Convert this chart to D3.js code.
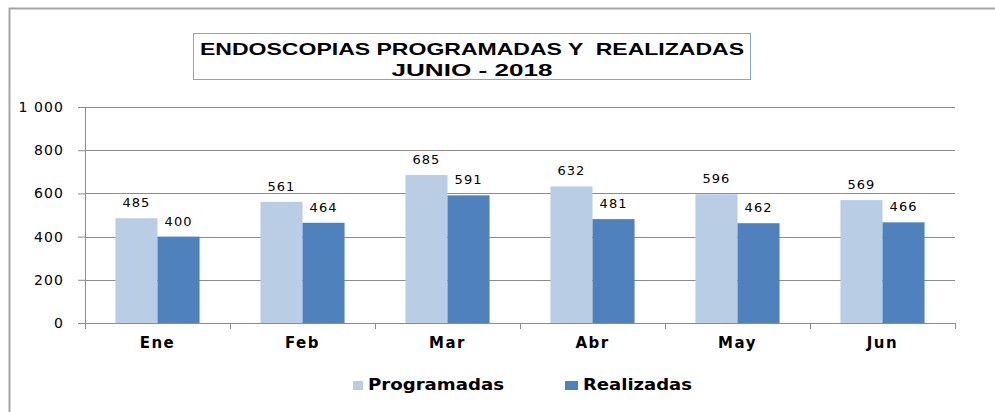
<!DOCTYPE html>
<html>
<head>
<meta charset="utf-8">
<script src="https://cdn.jsdelivr.net/npm/d3@7"></script>
<style>
  body { margin: 0; background: #fff; }
  svg { display: block; }
</style>
</head>
<body>
<div id="wrapper"></div>
<script>
// data
const months = ["Ene", "Feb", "Mar", "Abr", "May", "Jun"]
const seriesNames = ["Programadas", "Realizadas"]
const programadas = [485, 561, 685, 632, 596, 569]
const realizadas = [400, 464, 591, 481, 462, 466]
const yTicks = [0, 200, 400, 600, 800, 1000]
const titleLines = ["ENDOSCOPIAS PROGRAMADAS Y  REALIZADAS", "JUNIO - 2018"]

const colors = {Programadas: "#b9cde5", Realizadas: "#4f81bd"}

const width = 995
const height = 412
const margin = {top: 107, right: 40, bottom: 89, left: 85}
const boundedWidth = width - margin.left - margin.right
const boundedHeight = height - margin.top - margin.bottom

const svg = d3.select("#wrapper").append("svg")
    .attr("width", width)
    .attr("height", height)

// outer frame (only top + left visible)
svg.append("path")
    .attr("d", `M9.5,${height} V8.5 H${width}`)
    .attr("fill", "none")
    .attr("stroke", "#a6a6a6")
    .attr("stroke-width", 2)

// title box
const titleBox = svg.append("g")
titleBox.append("rect")
    .attr("x", 193.5).attr("y", 33.5)
    .attr("width", 557).attr("height", 46)
    .attr("fill", "#fff")
    .attr("stroke", "#7ea6d8")
    .attr("stroke-width", 1)
const titleWidths = [544, 161]
titleBox.selectAll("text")
    .data(titleLines)
    .join("text")
    .attr("x", 472)
    .attr("y", (d, i) => 55 + i * 21)
    .attr("text-anchor", "middle")
    .attr("textLength", (d, i) => titleWidths[i])
    .attr("lengthAdjust", "spacingAndGlyphs")
    .style("white-space", "pre")
    .style("font-family", "'Liberation Sans Narrow', 'Liberation Sans', Arial, sans-serif")
    .style("font-weight", "bold")
    .style("font-size", "17px")
    .attr("fill", "#000")
    .text(d => d)

const bounds = svg.append("g")
    .attr("transform", `translate(${margin.left},${margin.top})`)

// scales
const x0 = d3.scaleBand()
    .domain(months)
    .range([0, boundedWidth])
    .paddingInner(0.42)
    .paddingOuter(0.21)
const x1 = d3.scaleBand()
    .domain(seriesNames)
    .range([0, x0.bandwidth()])
const y = d3.scaleLinear()
    .domain([0, 1000])
    .range([boundedHeight, 0])

// gridlines
bounds.append("g")
    .selectAll("line")
    .data(yTicks.filter(d => d > 0))
    .join("line")
    .attr("x1", 0).attr("x2", boundedWidth)
    .attr("y1", d => Math.round(y(d)) + 0.5)
    .attr("y2", d => Math.round(y(d)) + 0.5)
    .attr("stroke", "#8c8c8c")
    .attr("stroke-width", 1)

// y axis
const yAxis = d3.axisLeft(y)
    .tickValues(yTicks)
    .tickSize(7)
    .tickPadding(14)
    .tickFormat(d => d3.format(",")(d).replace(",", " "))
const yAxisG = bounds.append("g").call(yAxis)
yAxisG.select(".domain").attr("stroke", "#8c8c8c")
yAxisG.selectAll(".tick line").attr("stroke", "#8c8c8c")
yAxisG.selectAll(".tick text")
    .attr("fill", "#000")
    .style("font-family", "'DejaVu Sans', Verdana, sans-serif")
    .style("font-size", "14px")
    .style("letter-spacing", "1.1px")

// bars
const rows = months.map((m, i) => ({
  month: m,
  values: [
    {key: "Programadas", value: programadas[i]},
    {key: "Realizadas", value: realizadas[i]},
  ]
}))

const groups = bounds.append("g")
    .selectAll("g")
    .data(rows)
    .join("g")
    .attr("transform", d => `translate(${x0(d.month)},0)`)

groups.selectAll("rect")
    .data(d => d.values)
    .join("rect")
    .attr("x", d => x1(d.key))
    .attr("y", d => y(d.value))
    .attr("width", x1.bandwidth())
    .attr("height", d => boundedHeight - y(d.value))
    .attr("fill", d => colors[d.key])

groups.selectAll("text")
    .data(d => d.values)
    .join("text")
    .attr("x", d => x1(d.key) + x1.bandwidth() / 2)
    .attr("y", d => y(d.value) - 11)
    .attr("text-anchor", "middle")
    .attr("fill", "#000")
    .style("font-family", "'DejaVu Sans', Verdana, sans-serif")
    .style("font-size", "13px")
    .style("letter-spacing", "1px")
    .text(d => d.value)

// x axis
const xAxisG = bounds.append("g")
    .attr("transform", `translate(0,${boundedHeight})`)
xAxisG.append("line")
    .attr("x1", 0).attr("x2", boundedWidth)
    .attr("y1", 0.5).attr("y2", 0.5)
    .attr("stroke", "#8c8c8c")
const step = x0.step()
xAxisG.selectAll(".xtick")
    .data(d3.range(months.length + 1))
    .join("line")
    .attr("class", "xtick")
    .attr("x1", d => Math.round(d * step) + 0.5)
    .attr("x2", d => Math.round(d * step) + 0.5)
    .attr("y1", 0).attr("y2", 6)
    .attr("stroke", "#8c8c8c")
xAxisG.selectAll(".xlabel")
    .data(months)
    .join("text")
    .attr("class", "xlabel")
    .attr("x", d => x0(d) + x0.bandwidth() / 2)
    .attr("y", 25)
    .attr("text-anchor", "middle")
    .attr("fill", "#000")
    .style("font-family", "'DejaVu Sans', Verdana, sans-serif")
    .style("font-weight", "bold")
    .style("font-size", "15px")
    .style("letter-spacing", "1.5px")
    .text(d => d)

// legend
const legendX = [353, 565]
const legendTextW = [136, 109]
const legend = svg.append("g")
    .selectAll("g")
    .data(seriesNames)
    .join("g")
    .attr("transform", (d, i) => `translate(${legendX[i]},381)`)
legend.append("rect")
    .attr("width", (d, i) => i === 0 ? 10 : 13)
    .attr("height", 9)
    .attr("fill", d => colors[d])
legend.append("text")
    .attr("x", (d, i) => i === 0 ? 15 : 18)
    .attr("y", 9)
    .attr("textLength", (d, i) => legendTextW[i])
    .attr("lengthAdjust", "spacingAndGlyphs")
    .attr("fill", "#000")
    .style("font-family", "'DejaVu Sans', Verdana, sans-serif")
    .style("font-weight", "bold")
    .style("font-size", "16px")
    .text(d => d)
</script>
</body>
</html>
